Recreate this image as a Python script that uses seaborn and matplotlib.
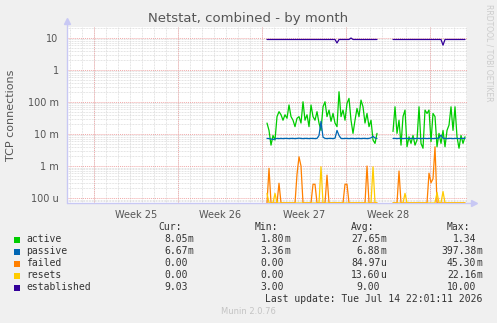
import numpy as np
import pandas as pd
import matplotlib
matplotlib.use("Agg")
import matplotlib.pyplot as plt
import seaborn as sns
from matplotlib.ticker import FixedLocator, LogLocator, FuncFormatter, NullFormatter
from matplotlib.patches import Rectangle

# ---------------- data (values in milli-units unless noted) ----------------
seg1_start = 14.417   # days after start of week 25
seg2_start = 24.917
step = 1 / 6          # 4-hour samples

active1 = [22, 13, 4.5, 9, 6.5, 35, 50, 40, 27, 40, 31, 81, 35, 27, 17, 31, 35, 22, 102, 27,
           40, 17, 81, 35, 27, 50, 22, 13, 71, 102, 35, 56, 25, 44, 22, 17, 210, 35, 56, 27,
           91, 130, 27, 10.5, 27, 63, 35, 115, 71, 22, 44, 17, 27, 6.5, 5.1, 10.5]
active2 = [12, 71, 10.5, 27, 4.5, 35, 56, 4.0, 8.2, 5.1, 9, 4.5, 6.5, 71, 5.1, 3.6, 56, 44, 56,
           5.8, 44, 35, 4.0, 10.5, 5.1, 13, 4.0, 13, 19, 71, 13, 71, 8.2, 3.6, 9, 5.1, 8.2]

passive1 = [7.3, 7.2, 7.0, 6.7, 7.1, 7.3, 7.2, 7.3, 7.2, 7.3, 7.3, 7.2, 7.3, 7.3, 7.2, 7.3, 7.4, 7.3,
            7.2, 7.3, 7.3, 7.2, 7.3, 7.3, 7.2, 7.3, 9.0, 25, 8.0, 7.3, 7.2, 7.3, 7.3, 7.2, 7.4, 13,
            9.0, 7.3, 7.2, 7.3, 7.3, 7.2, 7.3, 7.3, 7.2, 7.3, 7.3, 7.2, 7.3, 7.3, 7.2, 7.3, 7.6, 8.5,
            7.5, 7.3]
passive2 = [7.3, 7.3, 7.2, 7.3, 7.3, 7.2, 7.3, 7.3, 7.2, 7.3, 7.3, 7.2, 7.3, 7.3, 7.2, 7.3, 7.3,
            7.2, 7.3, 7.3, 7.2, 7.3, 7.3, 7.6, 9.3, 7.4, 7.3, 7.2, 7.3, 7.3, 7.2, 7.3, 7.3, 7.2,
            7.3, 7.3, 7.3]

failed1 = [0, 0.85, 0, 0, 0, 0, 0.29, 0, 0, 0, 0, 0, 0, 0, 0, 0.55, 1.95, 1.0, 0, 0,
           0, 0, 0, 0.27, 0.27, 0, 0, 0, 0, 0, 0.52, 0, 0, 0, 0, 0, 0, 0, 0, 0.27,
           0.27, 0, 0, 0, 0, 0, 0, 0, 0, 0, 1.0, 0, 0, 0, 0, 0]
failed2 = [0, 0, 0, 0.7, 0, 0, 0, 0, 0, 0, 0, 0, 0, 0, 0, 0, 0, 0, 0.6, 0.3,
           0.4, 4.0, 0, 0, 0, 0, 0, 0, 0, 0, 0, 0, 0, 0, 0, 0, 0]

resets1 = [0.14, 0, 0, 0, 0.14, 0, 0, 0, 0, 0, 0, 0, 0, 0, 0, 0, 0, 0, 0, 0,
           0, 0, 0, 0, 0, 0, 0, 0.95, 0, 0, 0, 0, 0, 0, 0, 0, 0, 0, 0, 0,
           0, 0, 0, 0, 0, 0, 0, 0, 0, 0, 0, 0, 0, 0.95, 0, 0]
resets2 = [0, 0, 0, 0, 0, 0, 0.14, 0, 0, 0, 0, 0, 0, 0, 0, 0, 0, 0, 0, 0,
           0, 0, 0.15, 0, 0, 0.16, 0, 0, 0, 0, 0, 0, 0, 0, 0, 0, 0]

# established in plain units
established1 = [9, 9, 9, 9, 9, 9, 9, 9, 9, 9, 9, 9, 9, 9, 9, 9, 9, 9, 9, 9,
                9, 9, 9, 9, 9, 9, 9, 9, 9, 9, 9, 9, 9, 9, 9, 7, 9, 9, 9, 9,
                9, 9, 10, 9, 9, 9, 9, 9, 9, 9, 9, 9, 9, 9, 9, 9]
established2 = [9, 9, 9, 9, 9, 9, 9, 9, 9, 9, 9, 9, 9, 9, 9, 9, 9, 9, 9, 9,
                9, 9, 9, 9, 9, 6, 9, 9, 9, 9, 9, 9, 9, 9, 9, 9, 9]

series_names = ["active", "passive", "failed", "resets", "established"]
series_colors = ["#00CC00", "#0066B3", "#FF8000", "#FFCC00", "#330099"]
legend_cur = ["8.05m", "6.67m", "0.00 ", "0.00 ", "9.03 "]
legend_min = ["1.80m", "3.36m", "0.00 ", "0.00 ", "3.00 "]
legend_avg = ["27.65m", "6.88m", "84.97u", "13.60u", "9.00 "]
legend_max = ["1.34 ", "397.38m", "45.30m", "22.16m", "10.00 "]

week_labels = ["Week 25", "Week 26", "Week 27", "Week 28"]
week_label_pos = [3.5, 10.5, 17.5, 24.5]
ytick_vals = [1e-4, 1e-3, 1e-2, 1e-1, 1, 10]
ytick_labels = ["100 u", "1 m", "10 m", "100 m", "1", "10"]

x_min, x_max = -2.25, 31.083
y_min, y_max = 7.0e-5, 22.1

# ---------------- build table ----------------
rows = []
def add(name, seg, start, vals, scale):
    for i, v in enumerate(vals):
        val = v * scale
        if val <= y_min:
            val = y_min
        rows.append({"t": start + i * step, "value": val, "series": name, "seg": seg})

add("active", 1, seg1_start, active1, 1e-3)
add("active", 2, seg2_start, active2, 1e-3)
add("passive", 1, seg1_start, passive1, 1e-3)
add("passive", 2, seg2_start, passive2, 1e-3)
add("failed", 1, seg1_start, failed1, 1e-3)
add("failed", 2, seg2_start, failed2, 1e-3)
add("resets", 1, seg1_start, resets1, 1e-3)
add("resets", 2, seg2_start, resets2, 1e-3)
add("established", 1, seg1_start, established1, 1.0)
add("established", 2, seg2_start, established2, 1.0)
df = pd.DataFrame(rows)

# ---------------- figure ----------------
sns.set_style("white")
plt.rcParams["font.family"] = ["DejaVu Sans"]
W, H = 497, 323
fig = plt.figure(figsize=(W / 100, H / 100), dpi=100, facecolor="#F0F0F0")
ax = fig.add_axes([67 / W, 120 / H, 400 / W, 176 / H])
ax.set_facecolor("white")
ax.set_yscale("log")
ax.set_xlim(x_min, x_max)
ax.set_ylim(y_min, y_max)

# grid
ax.set_axisbelow(True)
minor_col = "#d4d4d4"
major_col = "#f0a8a8"
ax.vlines(np.arange(-2, 32, 1), y_min, y_max, colors=minor_col, linestyles=(0, (1, 1)), lw=0.55, zorder=0)
ax.vlines(np.arange(0, 32, 7), y_min, y_max, colors=major_col, linestyles=(0, (1, 1)), lw=0.7, zorder=0)
ax.yaxis.set_major_locator(FixedLocator(ytick_vals))
ax.yaxis.set_minor_locator(LogLocator(base=10, subs=np.arange(2, 10)))
ax.yaxis.set_minor_formatter(NullFormatter())
ax.yaxis.set_major_formatter(FuncFormatter(lambda v, p: dict(zip(ytick_vals, ytick_labels)).get(v, "")))
ax.grid(which="minor", axis="y", color=minor_col, linestyle=(0, (1, 1)), lw=0.55)
ax.grid(which="major", axis="y", color=major_col, linestyle=(0, (1, 1)), lw=0.7)
ax.xaxis.set_major_locator(FixedLocator(week_label_pos))
ax.set_xticklabels(week_labels)
ax.tick_params(axis="both", which="both", length=0, labelsize=7, labelcolor="#555555")
ax.tick_params(axis="x", pad=5)
ax.tick_params(axis="y", pad=6)

for name, color in zip(series_names, series_colors):
    sns.lineplot(data=df[df["series"] == name], x="t", y="value", units="seg", estimator=None,
                 color=color, linewidth=0.9, ax=ax, legend=False)

ax.set_xlabel("")
ax.set_ylabel("")
for s in ax.spines.values():
    s.set_visible(False)

# axis lines with arrows
axis_col = "#c8c8f4"
ax.plot([0, 0], [0, 1.03], transform=ax.transAxes, color=axis_col, lw=1, clip_on=False)
ax.plot([0, 1.015], [0, 0], transform=ax.transAxes, color=axis_col, lw=1, clip_on=False, zorder=1)
ax.plot([0], [1.035], marker="^", ms=4, color=axis_col, transform=ax.transAxes, clip_on=False)
ax.plot([1.018], [0], marker=">", ms=4, color=axis_col, transform=ax.transAxes, clip_on=False)

def P(x, y):
    return (x / W, 1 - y / H)

fig.text(*P(248, 18.5), "Netstat, combined - by month", ha="center", va="center",
         fontsize=9.5, color="#555555")
fig.text(*P(11.5, 115), "TCP connections", ha="center", va="center", rotation=90,
         fontsize=8, color="#555555")
fig.text(*P(488.5, 53), "RRDTOOL / TOBI OETIKER", ha="center", va="center", rotation=-90,
         fontsize=5.5, color="#cccccc")
fig.text(*P(248, 312), "Munin 2.0.76", ha="center", va="center", fontsize=6, color="#c4c4c4")

mono = dict(family="DejaVu Sans Mono", fontsize=7, color="#333333", va="center")
hdr_y = 227.5
for txt, x in zip(["Cur:", "Min:", "Avg:", "Max:"], [158.7, 254.3, 351, 446.7]):
    fig.text(*P(x, hdr_y), txt, ha="left", **mono)

col_ends = [187.7, 284.3, 380.3, 476.3]
for k, (name, color) in enumerate(zip(series_names, series_colors)):
    y = 239.5 + 12 * k
    fig.patches.append(Rectangle(P(14, y + 3), 6 / W, 6 / H, transform=fig.transFigure,
                                 facecolor=color, edgecolor="none"))
    fig.text(*P(26.3, y), name, ha="left", **mono)
    for vals, xe in zip([legend_cur, legend_min, legend_avg, legend_max], col_ends):
        s = vals[k]
        fig.text(*P(xe, y), s[:-1], ha="right", **mono)
        fig.text(*P(xe, y), s[-1], ha="left", **mono)

fig.text(*P(482.5, 299.5), "Last update: Tue Jul 14 22:01:11 2026", ha="right", **mono)

fig.savefig("out.png", dpi=100, facecolor=fig.get_facecolor())
